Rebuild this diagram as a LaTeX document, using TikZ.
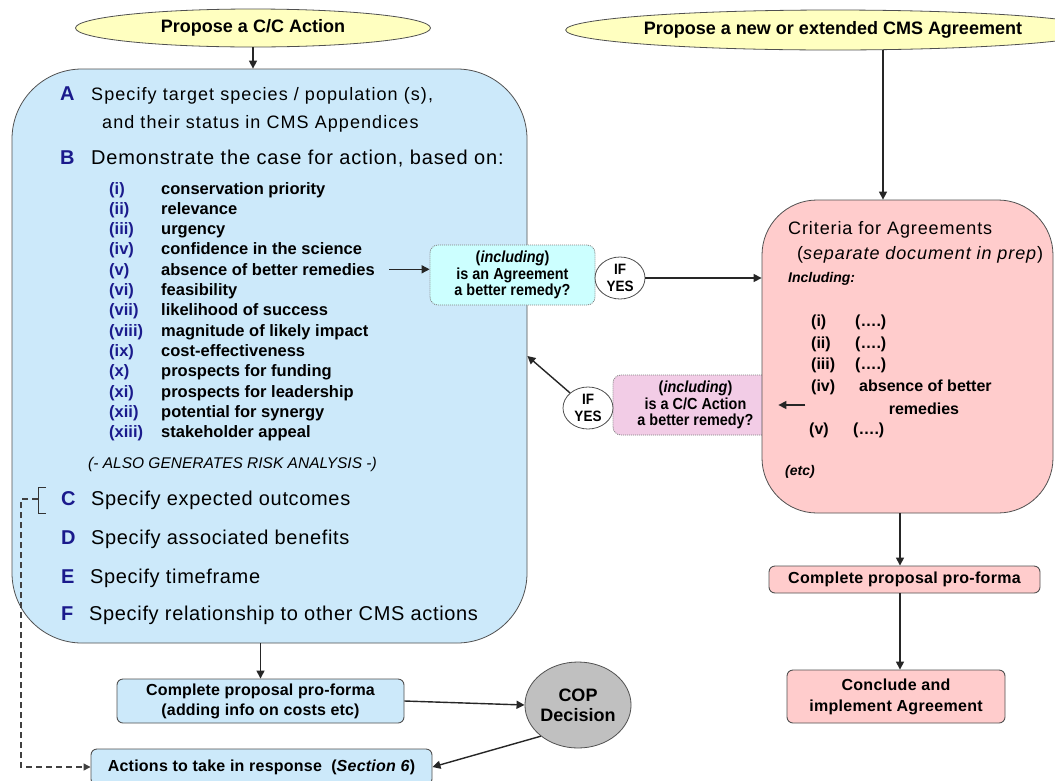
\documentclass[tikz,border=0pt]{standalone}
\usepackage{fontspec}
\setmainfont{Liberation Sans}
\newfontfamily\nar[FakeStretch=0.9]{Liberation Sans}
\usetikzlibrary{shapes.geometric,arrows.meta}
\definecolor{bluefill}{RGB}{204,233,250}
\definecolor{pinkfill}{RGB}{255,204,204}
\definecolor{cyanfill}{RGB}{204,255,255}
\definecolor{ccfill}{RGB}{242,204,230}
\definecolor{yellowfill}{RGB}{255,255,192}
\definecolor{copfill}{RGB}{192,192,192}
\definecolor{navy}{RGB}{26,26,140}
\definecolor{edge}{RGB}{80,80,80}
\newcommand\fs[2]{\fontsize{#1}{#2}\selectfont}
\newcommand\ls[1]{\addfontfeature{LetterSpace=#1}}
\begin{document}
\begin{tikzpicture}[x=1pt,y=-1pt,
  ell/.style={ellipse, draw=edge, fill=yellowfill, line width=0.8pt, inner sep=0pt, font=\bfseries\fs{18pt}{20pt}},
  bigbox/.style={rectangle, draw=edge, line width=0.8pt, inner sep=0pt},
  smallbox/.style={rectangle, rounded corners=6pt, draw=edge, line width=0.9pt, inner sep=0pt, align=center, font=\bfseries\fs{16pt}{21pt}\ls{2}},
  dotbox/.style={rectangle, rounded corners=8pt, draw=gray, dash pattern=on 1pt off 1pt, line width=0.8pt, inner sep=0pt, align=center, font=\nar\bfseries\fs{16pt}{16.5pt}},
  ifyes/.style={ellipse, draw=edge, fill=white, line width=0.8pt, inner sep=0pt, minimum width=50pt, minimum height=42pt, align=center, font=\nar\bfseries\fs{15pt}{17pt}},
  txt/.style={anchor=base west, inner sep=0pt},
  big/.style={txt, font=\fs{20pt}{22pt}\ls{3.3}},
  lett/.style={txt, font=\bfseries\fs{20pt}{22pt}, text=navy},
  lab/.style={txt, font=\bfseries\fs{16.5pt}{18pt}, text=navy},
  itm/.style={txt, font=\bfseries\fs{16.5pt}{18pt}},
  plab/.style={txt, font=\bfseries\fs{16pt}{18pt}},
  arr/.style={-{Triangle[length=8pt,width=8pt]}, line width=1.4pt, draw=black!85}
]
\fill[white] (0,0) rectangle (1055,780);
\useasboundingbox (0,0) rectangle (1055,780);

% top ellipses
\node[ell, minimum width=355pt, minimum height=38pt] (e1) at (253,28) {Propose a C/C Action};
\node[ell, minimum width=460pt, minimum height=40pt] (e2) at (833,30) {Propose a new or extended CMS Agreement};

% big blue box
\node[bigbox, fill=bluefill, rounded corners=70pt, minimum width=515pt, minimum height=574pt] (blue) at (269.5,356) {};

\node[lett] (lA) at (60,100) {A};
\node[txt, font=\fs{18pt}{20pt}\ls{6}] (tA1) at (91,100) {Specify target species / population (s),};
\node[txt, font=\fs{18pt}{20pt}\ls{6}] (tA2) at (102,128) {and their status in CMS Appendices};
\node[lett] (lB) at (60,164.5) {B};
\node[big, font=\fs{20pt}{22pt}\ls{4.3}] (tB) at (91,164.5) {Demonstrate the case for action, based on:};

\foreach \lb/\tx [count=\i] in {(i)/conservation priority,(ii)/relevance,(iii)/urgency,(iv)/confidence in the science,(v)/absence of better remedies,(vi)/feasibility,(vii)/likelihood of success,(viii)/magnitude of likely impact,(ix)/cost-effectiveness,(x)/prospects for funding,(xi)/prospects for leadership,(xii)/potential for synergy,(xiii)/stakeholder appeal}{
  \node[lab] (l\i) at (109,{194+20.3*(\i-1)}) {\lb};
  \node[itm] (t\i) at (161,{194+20.3*(\i-1)}) {\tx};
}

\node[txt, font=\itshape\fs{15.5pt}{18pt}] (also) at (88,468) {(- ALSO GENERATES RISK ANALYSIS -)};
\node[lett] (lC) at (61,505.5) {C};
\node[big] (tC) at (91,505.5) {Specify expected outcomes};
\node[lett] (lD) at (61,544.5) {D};
\node[big] (tD) at (91,544.5) {Specify associated benefits};
\node[lett] (lE) at (61,583.5) {E};
\node[big] (tE) at (90,583.5) {Specify timeframe};
\node[lett] (lF) at (61,620.5) {F};
\node[big] (tF) at (89,620.5) {Specify relationship to other CMS actions};

% bottom left boxes
\node[smallbox, fill=bluefill, minimum width=287pt, minimum height=44pt, font=\bfseries\fs{16pt}{20pt}\ls{1}] (cp) at (260.5,701) {Complete proposal pro-forma\\(adding info on costs etc)};
\node[smallbox, fill=bluefill, minimum width=341pt, minimum height=36pt, font=\bfseries\fs{16pt}{20pt}\ls{1.5}] (act) at (261.5,767) {Actions to take in response\ \ (\textit{Section 6})};
\node[ellipse, draw=edge, fill=copfill, line width=0.8pt, minimum width=104pt, minimum height=86pt, inner sep=0pt, align=center, font=\bfseries\fs{18pt}{20pt}] (cop) at (578,705) {COP\\Decision};

% middle boxes
\node[dotbox, fill=cyanfill, minimum width=165pt, minimum height=60pt] (cy) at (512.5,275) {(\textit{including})\\is an Agreement\\a better remedy?};
\node[ifyes] (if1) at (620,278) {IF\\YES};
\node[dotbox, fill=ccfill, minimum width=165pt, minimum height=60pt] (cc) at (695.5,405) {(\textit{including})\\is a C/C Action\\a better remedy?};
\node[ifyes] (if2) at (588,408) {IF\\YES};

% pink big box
\node[bigbox, fill=pinkfill, rounded corners=55pt, minimum width=291pt, minimum height=313pt] (pink) at (907.5,356.5) {};
\node[txt, font=\fs{18pt}{20pt}\ls{5}] (pc1) at (788,234.5) {Criteria for Agreements};
\node[txt, font=\fs{18pt}{20pt}\ls{5}] (pc2) at (797,259) {(\textit{separate document in prep})};
\node[txt, font=\bfseries\itshape\fs{14pt}{16pt}] (pinc) at (788,282) {Including:};
\node[plab] (p1l) at (811,326) {(i)};
\node[plab] (p1t) at (855,326) {(….)};
\node[plab] (p2l) at (811,348) {(ii)};
\node[plab] (p2t) at (855,348) {(….)};
\node[plab] (p3l) at (811,369) {(iii)};
\node[plab] (p3t) at (855,369) {(….)};
\node[plab] (p4l) at (811,391) {(iv)};
\node[plab] (p4t) at (859,391) {absence of better};
\node[plab, anchor=base] (p4u) at (924,414) {remedies};
\node[plab] (p5l) at (809,434) {(v)};
\node[plab] (p5t) at (853,434) {(….)};
\node[txt, font=\bfseries\itshape\fs{14pt}{16pt}] (petc) at (785,475) {(etc)};

\node[smallbox, fill=pinkfill, minimum width=271pt, minimum height=27pt] (pp) at (904.5,579.5) {Complete proposal pro-forma};
\node[smallbox, fill=pinkfill, minimum width=218pt, minimum height=53pt] (con) at (896,696.5) {Conclude and\\implement Agreement};

% helper coordinates
\coordinate (rx) at (883,0);
\coordinate (dx) at (900,0);
\coordinate (dl) at (21,0);

% connectors
\draw[arr] (e1.south) -- (e1.south |- blue.north);
\draw[arr] (rx |- e2.south) -- (rx |- pink.north);
\draw[arr] ([xshift=14pt]t5.east) -- (t5.east -| cy.west);
\draw[arr] (if1.east) -- (if1.east -| pink.west);
\draw[arr] ([xshift=27pt]cc.east) -- (cc.east);
\draw[arr] (if2.140) -- (blue.east);
\draw[arr] (dx |- pink.south) -- (dx |- pp.north);
\draw[arr] (dx |- pp.south) -- (dx |- con.north);
\draw[arr] (blue.south -| cp.north) -- (cp.north);
\draw[arr] (cp.east) -- (cop.west);
\draw[arr] (cop.220) -- (act.east);

% bracket and dashed link
\coordinate (bk) at (38,499);
\draw[line width=1pt, draw=black!80] ([xshift=8pt,yshift=12pt]bk) -- ([yshift=12pt]bk) -- ([yshift=-14pt]bk) -- ([xshift=8pt,yshift=-14pt]bk);
\draw[line width=1.2pt, draw=black!75, dash pattern=on 6pt off 4pt, -{Triangle[length=7pt,width=7pt]}] (bk) -- (dl |- bk) -- (dl |- act.west) -- (act.west);
\end{tikzpicture}
\end{document}
